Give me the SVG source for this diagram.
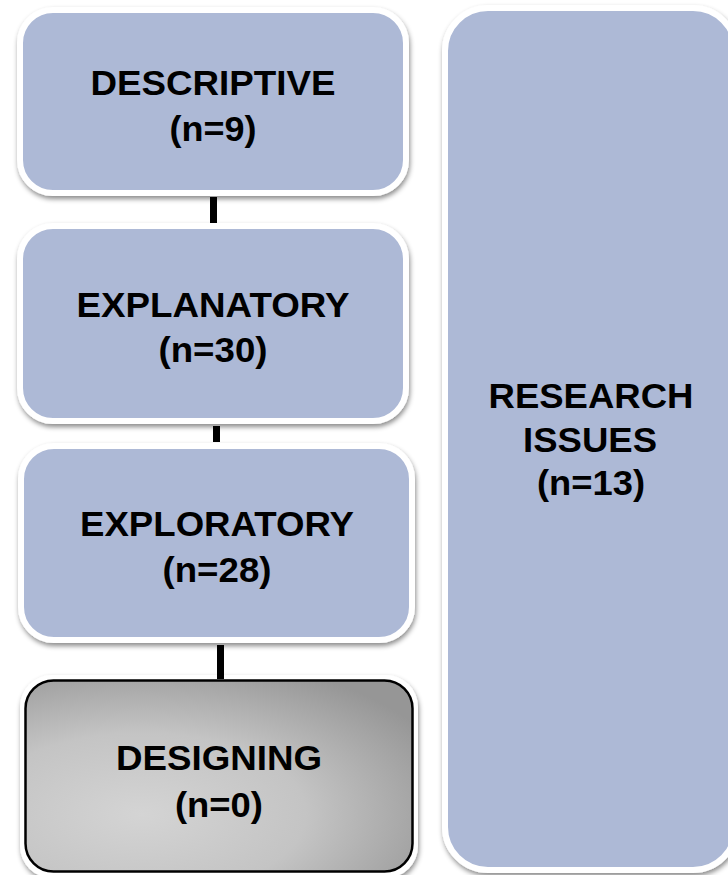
<svg xmlns="http://www.w3.org/2000/svg" width="728" height="875" viewBox="0 0 728 875">
  <defs>
    <filter id="shadow" x="-10%" y="-10%" width="120%" height="125%">
      <feDropShadow dx="1" dy="3" stdDeviation="2.5" flood-color="#000" flood-opacity="0.45"/>
    </filter>
    <radialGradient id="greyFill" cx="0.3" cy="0.7" r="0.85">
      <stop offset="0" stop-color="#d4d4d4"/>
      <stop offset="0.5" stop-color="#c4c4c4"/>
      <stop offset="1" stop-color="#969696"/>
    </radialGradient>
    <style>
      .box { fill: #adb9d6; stroke: #ffffff; stroke-width: 6; }
      .halo { fill: #ffffff; }
      .grey { fill: url(#greyFill); stroke: #000000; stroke-width: 2.5; }
      .label { font-family: "Liberation Sans", Arial, sans-serif; font-weight: bold; font-size: 34.5px; fill: #000000; text-anchor: middle; }
      .link { stroke: #000000; stroke-width: 7; fill: none; }
    </style>
  </defs>

  <rect width="728" height="875" fill="#ffffff"/>

  <!-- stage boxes, left column -->
  <g id="descriptive">
    <rect class="box" x="20" y="10" width="386" height="183" rx="33" filter="url(#shadow)"/>
    <text class="label" x="213" y="95" textLength="245" lengthAdjust="spacingAndGlyphs">DESCRIPTIVE</text>
    <text class="label" x="213" y="141" textLength="87" lengthAdjust="spacingAndGlyphs">(n=9)</text>
  </g>

  <g id="explanatory">
    <rect class="box" x="20" y="226" width="386" height="195" rx="33" filter="url(#shadow)"/>
    <text class="label" x="213" y="317" textLength="273" lengthAdjust="spacingAndGlyphs">EXPLANATORY</text>
    <text class="label" x="213" y="362" textLength="109" lengthAdjust="spacingAndGlyphs">(n=30)</text>
  </g>

  <g id="exploratory">
    <rect class="box" x="21" y="446" width="391" height="194" rx="33" filter="url(#shadow)"/>
    <text class="label" x="217" y="536" textLength="274" lengthAdjust="spacingAndGlyphs">EXPLORATORY</text>
    <text class="label" x="217" y="582" textLength="109" lengthAdjust="spacingAndGlyphs">(n=28)</text>
  </g>

  <g id="designing">
    <rect class="halo" x="20" y="675" width="398" height="203" rx="32" filter="url(#shadow)"/>
    <rect class="grey" x="25.5" y="680.5" width="387" height="191" rx="28"/>
    <text class="label" x="219" y="770" textLength="206" lengthAdjust="spacingAndGlyphs">DESIGNING</text>
    <text class="label" x="219" y="817" textLength="88" lengthAdjust="spacingAndGlyphs">(n=0)</text>
  </g>

  <!-- tall box on the right -->
  <g id="research-issues">
    <rect class="box" x="445" y="8" width="291" height="862" rx="43" filter="url(#shadow)"/>
    <text class="label" x="591" y="408" textLength="205" lengthAdjust="spacingAndGlyphs">RESEARCH</text>
    <text class="label" x="590" y="452" textLength="134" lengthAdjust="spacingAndGlyphs">ISSUES</text>
    <text class="label" x="591" y="495" textLength="108" lengthAdjust="spacingAndGlyphs">(n=13)</text>
  </g>

  <!-- vertical links between stages -->
  <g id="connectors">
    <line class="link" x1="213.5" y1="197" x2="213.5" y2="223"/>
    <line class="link" x1="216.5" y1="426" x2="216.5" y2="442"/>
    <line class="link" x1="220.5" y1="645" x2="220.5" y2="679"/>
  </g>
</svg>
